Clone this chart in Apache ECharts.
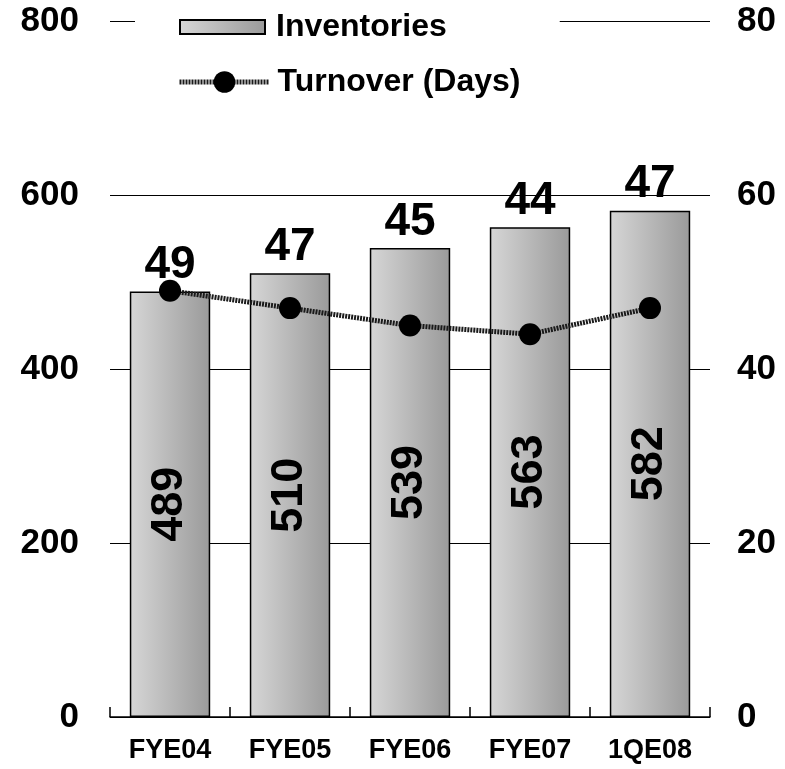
<!DOCTYPE html>
<html>
<head>
<meta charset="utf-8">
<style>
  html, body { margin: 0; padding: 0; background: #ffffff; }
  #chart { width: 785px; height: 769px; }
</style>
<script src="https://cdn.jsdelivr.net/npm/echarts@6/dist/echarts.min.js"></script>
</head>
<body>
<div id="chart"></div>
<script>
// Inventories (left axis) and inventory turnover in days (right axis)
const categories = ['FYE04', 'FYE05', 'FYE06', 'FYE07', '1QE08'];
const inventories = [489, 510, 539, 563, 582];
const turnoverDays = [49, 47, 45, 44, 47];
const leftTicks = [0, 200, 400, 600, 800];
const rightTicks = [0, 20, 40, 60, 80];

const FONT = 'Liberation Sans, Arial, sans-serif';

const chart = echarts.init(document.getElementById('chart'), null, { renderer: 'canvas' });

const barFill = new echarts.graphic.LinearGradient(0, 0, 1, 0, [
  { offset: 0, color: '#d6d6d6' },
  { offset: 1, color: '#9a9a9a' }
]);

const legendText = { fontFamily: FONT, fontSize: 32, fontWeight: 'bold', color: '#000' };
const turnoverLine = { color: '#1a1a1a', width: 5, type: [2, 1] };

const option = {
  animation: false,
  backgroundColor: '#ffffff',
  textStyle: { fontFamily: FONT },
  grid: { left: 110, right: 75, top: 21, bottom: 52, containLabel: false },
  legend: [
    {
      // white box behind this entry interrupts the top gridline
      left: 135,
      top: 0,
      padding: [11, 113, 6, 44],
      backgroundColor: '#ffffff',
      itemWidth: 85,
      itemHeight: 14,
      textStyle: Object.assign({ padding: [0, 0, 0, 6] }, legendText),
      data: [{ name: 'Inventories', icon: 'rect' }]
    },
    {
      left: 177,
      top: 66,
      padding: 0,
      itemWidth: 90,
      itemHeight: 27,
      lineStyle: turnoverLine,
      textStyle: Object.assign({ padding: [0, 0, 0, 3] }, legendText),
      data: [{ name: 'Turnover (Days)' }]
    }
  ],
  xAxis: {
    type: 'category',
    data: categories,
    axisLine: { lineStyle: { color: '#000', width: 1.5 } },
    axisTick: { show: true, inside: true, length: 10, lineStyle: { color: '#000', width: 1.5 } },
    axisLabel: { fontFamily: FONT, fontSize: 27, fontWeight: 'bold', color: '#000', margin: 20 }
  },
  yAxis: [
    {
      type: 'value', min: 0, max: 800, interval: 200,
      axisLine: { show: false }, axisTick: { show: false },
      splitLine: { lineStyle: { color: '#000', width: 1.2 } },
      axisLabel: {
        fontFamily: FONT, fontSize: 35, fontWeight: 'bold', color: '#000', margin: 31,
        formatter: v => (leftTicks.indexOf(v) >= 0 ? String(v) : '')
      }
    },
    {
      type: 'value', min: 0, max: 80, interval: 20,
      axisLine: { show: false }, axisTick: { show: false },
      splitLine: { show: false },
      axisLabel: {
        fontFamily: FONT, fontSize: 35, fontWeight: 'bold', color: '#000', margin: 27,
        formatter: v => (rightTicks.indexOf(v) >= 0 ? String(v) : '')
      }
    }
  ],
  series: [
    {
      name: 'Inventories',
      type: 'bar',
      yAxisIndex: 0,
      data: inventories,
      barWidth: '67%',
      itemStyle: { color: barFill, borderColor: '#000', borderWidth: 1.5 },
      label: {
        show: true,
        position: 'inside',
        rotate: 90,
        fontFamily: FONT,
        fontSize: 45,
        fontWeight: 'bold',
        color: '#000'
      }
    },
    {
      name: 'Turnover (Days)',
      type: 'line',
      yAxisIndex: 1,
      data: turnoverDays,
      symbol: 'circle',
      symbolSize: 22,
      itemStyle: { color: '#000' },
      lineStyle: turnoverLine,
      label: {
        show: true,
        position: 'inside',
        fontFamily: FONT,
        fontSize: 46,
        fontWeight: 'bold',
        color: '#000'
      },
      z: 5
    }
  ]
};

chart.setOption(option);

// Turnover labels sit just above each inventory bar rather than on the line point
const labelGap = 26;
const liftedTurnover = turnoverDays.map((v, i) => {
  const barTop = chart.convertToPixel({ yAxisIndex: 0 }, inventories[i]);
  const point = chart.convertToPixel({ yAxisIndex: 1 }, v);
  return { value: v, label: { offset: [0, barTop - labelGap - point] } };
});
chart.setOption({ series: [{}, { data: liftedTurnover }] });
</script>
</body>
</html>
